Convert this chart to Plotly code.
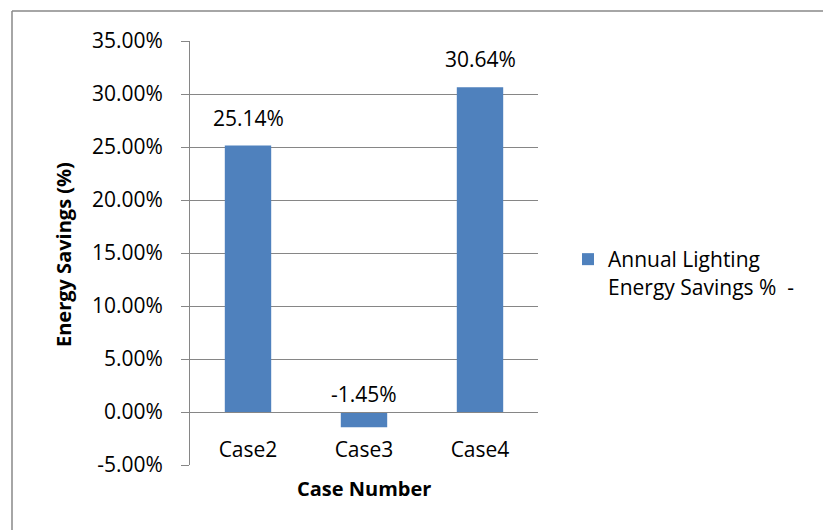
import plotly.graph_objects as go

categories = ["Case2", "Case3", "Case4"]
savings = [25.14, -1.45, 30.64]
series_name = "Annual Lighting<br>Energy Savings %  -"
y_ticks = [-5, 0, 5, 10, 15, 20, 25, 30, 35]
y_tick_labels = ["-5.00%", "0.00%", "5.00%", "10.00%", "15.00%", "20.00%", "25.00%", "30.00%", "35.00%"]

FONT = "'Open Sans', Lato, sans-serif"
GRID = "#868686"
W, H = 823, 530
# plot area in pixels
L, R, T, B = 190, 538, 41, 465


def px(x):
    return (x - L) / (R - L)


def py(y):
    return (B - y) / (B - T)


fig = go.Figure()
fig.add_trace(go.Bar(
    x=categories, y=savings, name=series_name,
    marker=dict(color="#4F81BD", line=dict(width=0)),
    showlegend=True,
))

for c, v in zip(categories, savings):
    fig.add_annotation(
        x=c, y=max(v, 0), xref="x", yref="y",
        text=f"{v:.2f}%", showarrow=False,
        yanchor="middle", yshift=28 if v > 0 else 18,
        font=dict(family=FONT, size=21, color="#000000"),
    )

fig.add_annotation(
    x=px(63), y=py(254), xref="paper", yref="paper",
    text="<b>Energy Savings (%)</b>", textangle=-90, showarrow=False,
    xanchor="center", yanchor="middle",
    font=dict(family=FONT, size=20, color="#000000"),
)
fig.add_annotation(
    x=px(364), y=py(488), xref="paper", yref="paper",
    text="<b>Case Number</b>", showarrow=False,
    xanchor="center", yanchor="middle",
    font=dict(family=FONT, size=20, color="#000000"),
)

# chart-area border (left and top edges visible in the reference)
fig.add_shape(type="line", xref="paper", yref="paper",
              x0=px(12), x1=px(12), y0=py(540), y1=py(11),
              line=dict(color="#898989", width=1.5), layer="below")
fig.add_shape(type="line", xref="paper", yref="paper",
              x0=px(12), x1=px(840), y0=py(11), y1=py(11),
              line=dict(color="#898989", width=1.5), layer="below")

fig.update_layout(
    width=W, height=H,
    margin=dict(l=L, r=W - R, t=T, b=H - B, pad=0),
    paper_bgcolor="white", plot_bgcolor="white",
    font=dict(family=FONT, size=21, color="#000000"),
    bargap=0.6,
    showlegend=True,
    legend=dict(
        x=px(568), y=py(239), xanchor="left", yanchor="top",
        valign="top", font=dict(family=FONT, size=21, color="#000000"),
        bgcolor="rgba(0,0,0,0)", itemwidth=30,
    ),
    xaxis=dict(
        anchor="free", position=5 / 40,
        showline=True, linecolor=GRID, linewidth=1,
        ticks="", showgrid=False, zeroline=False,
        ticklabelstandoff=19,
        tickfont=dict(family=FONT, size=21, color="#000000"),
    ),
    yaxis=dict(
        range=[-5, 35], tickvals=y_ticks, ticktext=y_tick_labels,
        showgrid=True, gridcolor=GRID, gridwidth=1,
        showline=True, linecolor=GRID, linewidth=1,
        ticks="outside", ticklen=8, tickcolor=GRID, tickwidth=1,
        zeroline=False, ticklabelstandoff=14,
        tickfont=dict(family=FONT, size=21, color="#000000"),
    ),
)

fig.write_html(
    "out.html",
    config={"displayModeBar": False},
    post_script="document.body.style.margin='0';document.body.style.overflow='hidden';",
)
